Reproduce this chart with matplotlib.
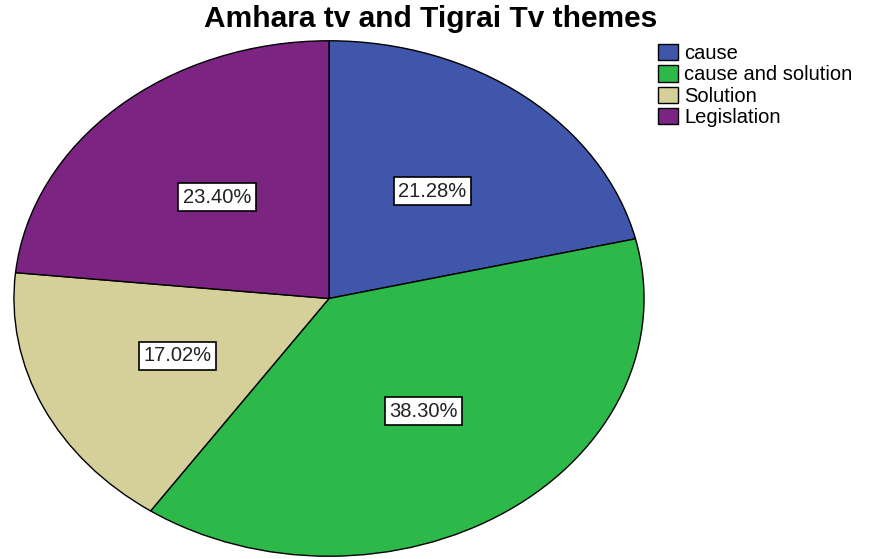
import matplotlib
matplotlib.use("Agg")
import matplotlib.pyplot as plt
from matplotlib.patches import Patch

categories = ["cause", "cause and solution", "Solution", "Legislation"]
values = [21.28, 38.30, 17.02, 23.40]
colors = ["#3F56AA", "#2DB84A", "#D5CF9A", "#7B2482"]
title = "Amhara tv and Tigrai Tv themes"

plt.rcParams['font.family'] = ['Liberation Sans', 'DejaVu Sans']

W, H = 869, 559
fig = plt.figure(figsize=(W/100, H/100), dpi=100)
fig.patch.set_facecolor('white')
x0, x1, ytop, ybot = 13, 645, 40, 557
ax = fig.add_axes([x0/W, (H-ybot)/H, (x1-x0)/W, (ybot-ytop)/H])

wedges, texts = ax.pie(values, colors=colors, startangle=90, counterclock=False,
                       labels=[f"{v:.2f}%" for v in values], labeldistance=0.53,
                       wedgeprops=dict(edgecolor='black', linewidth=1.0))
for t in texts:
    t.set_ha('center'); t.set_va('center')
    t.set_fontsize(14.5)
    t.set_color('#222222')
    t.set_bbox(dict(boxstyle='square,pad=0.22', facecolor='white', edgecolor='black', linewidth=1.2))
ax.set_aspect('auto')
ax.set_xlim(-1.003, 1.003)
ax.set_ylim(-1.003, 1.003)
ax.axis('off')

fig.text(431/W, 1-19/H, title, ha='center', va='center', fontsize=21.5, fontweight='bold')

handles = [Patch(facecolor=c, edgecolor='black', linewidth=1) for c in colors]
fig.legend(handles, categories, loc='upper left', bbox_to_anchor=(654/W, 1-40/H),
           frameon=False, fontsize=14.5, handlelength=1.0, handleheight=0.85,
           handletextpad=0.3, labelspacing=0.12, borderaxespad=0, borderpad=0.2)

fig.savefig("out.png", dpi=100, facecolor='white')
